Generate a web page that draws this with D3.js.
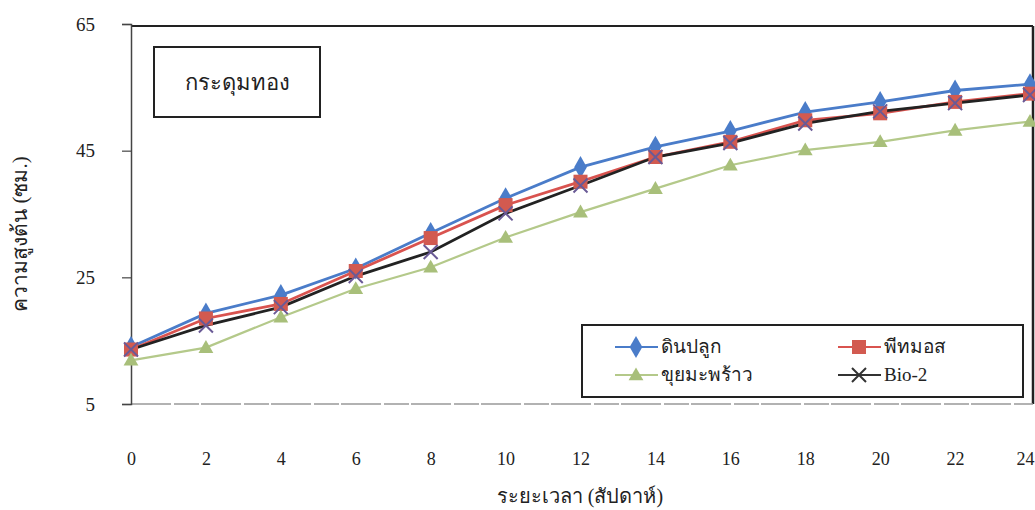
<!DOCTYPE html>
<html><head><meta charset="utf-8">
<script src="https://cdn.jsdelivr.net/npm/d3@7"></script>
<style>
body{margin:0;background:#fff;}
svg text{font-family:"Liberation Serif","Times New Roman",serif;}
</style></head>
<body><svg id="c" width="1035" height="510"></svg>
<script>
const weeks = [0,2,4,6,8,10,12,14,16,18,20,22,24];
const yTicks = [5,25,45,65];
const seriesNames = ["ดินปลูก","พีทมอส","ขุยมะพร้าว","Bio-2"];
const soil  = [14.0,19.3,22.2,26.4,32.0,37.5,42.4,45.6,48.1,51.1,52.7,54.5,55.5];
const peat  = [13.6,18.5,20.8,26.0,31.2,36.4,40.1,44.0,46.4,49.8,50.9,52.7,54.0];
const coir  = [11.9,13.9,18.7,23.2,26.6,31.3,35.3,39.0,42.7,45.1,46.4,48.2,49.6];
const bio2  = [13.6,17.4,20.3,25.2,29.0,35.1,39.5,44.0,46.2,49.3,51.2,52.5,53.8];
const chartTitle = "กระดุมทอง";
const xTitle = "ระยะเวลา (สัปดาห์)";
const yTitle = "ความสูงต้น (ซม.)";

const svg = d3.select("#c");
const x = d3.scaleLinear().domain([0,24]).range([131,1030]);
const y = d3.scaleLinear().domain([5,65]).range([404,24]);

// frame
svg.append("line").attr("x1",131).attr("x2",1033).attr("y1",26).attr("y2",26).attr("stroke","#222").attr("stroke-width",2);
svg.append("line").attr("x1",1033).attr("x2",1033).attr("y1",26).attr("y2",404).attr("stroke","#222").attr("stroke-width",2.5);
svg.append("line").attr("x1",131).attr("x2",1033).attr("y1",404).attr("y2",404).attr("stroke","#999").attr("stroke-width",1.5).attr("stroke-dasharray","40,3,25,2");

// y axis
const ya = svg.append("g").attr("transform","translate(131,0)")
  .call(d3.axisLeft(y).tickValues(yTicks).tickSize(9).tickPadding(27));
ya.select(".domain").attr("stroke","#444").attr("stroke-width",1.5);
ya.selectAll(".tick line").attr("stroke","#444").attr("stroke-width",1.2);
ya.selectAll("text").attr("font-size",19).attr("fill","#222").attr("font-family","Liberation Serif");

// x axis labels
const xa = svg.append("g").attr("transform","translate(0,404)")
  .call(d3.axisBottom(x).tickValues(weeks).tickSize(0).tickPadding(48));
xa.select(".domain").remove();
xa.selectAll("text").attr("font-size",18).attr("fill","#222").attr("font-family","Liberation Serif");
xa.selectAll(".tick").filter(d=>d===24).select("text").attr("text-anchor","end").attr("dx",4);

// titles
svg.append("text").attr("x",580).attr("y",503).attr("text-anchor","middle").attr("font-size",20).attr("fill","#222").text(xTitle);
svg.append("text").attr("transform","translate(27,234) rotate(-90)").attr("text-anchor","middle").attr("font-size",21).attr("fill","#222").text(yTitle);

// title box
svg.append("rect").attr("x",154).attr("y",47).attr("width",166).attr("height",70).attr("fill","#fff").attr("stroke","#222").attr("stroke-width",2);
svg.append("text").attr("x",237).attr("y",90).attr("text-anchor","middle").attr("font-size",22).attr("fill","#222").text(chartTitle);

const line = d3.line().x((d,i)=>x(weeks[i])).y(d=>y(d));
const series = [
  {name:seriesNames[0], data:soil, color:"#4a7cc9", marker:"diamond", mcolor:"#4a7cc9"},
  {name:seriesNames[1], data:peat, color:"#d9534f", marker:"square", mcolor:"#d25a50"},
  {name:seriesNames[2], data:coir, color:"#b4c98a", marker:"triangle", mcolor:"#a8bf7a"},
  {name:seriesNames[3], data:bio2, color:"#222", marker:"x", mcolor:"#6a5a96"}
];
function drawMarker(g, type, cx, cy, col){
  if(type==="diamond") g.append("path").attr("d",d3.symbol(d3.symbolDiamond,140)()).attr("transform",`translate(${cx},${cy})`).attr("fill",col);
  else if(type==="square") g.append("rect").attr("x",cx-7).attr("y",cy-7).attr("width",14).attr("height",14).attr("fill",col);
  else if(type==="triangle") g.append("path").attr("d",d3.symbol(d3.symbolTriangle,95)()).attr("transform",`translate(${cx},${cy+1})`).attr("fill",col);
  else { g.append("path").attr("d",`M${cx-7},${cy-7}L${cx+7},${cy+7}M${cx-7},${cy+7}L${cx+7},${cy-7}`).attr("stroke",col).attr("stroke-width",2).attr("fill","none"); }
}
const plot = svg.append("g");
series.forEach(s=>{
  plot.append("path").datum(s.data).attr("d",line).attr("fill","none").attr("stroke",s.color).attr("stroke-width",s.marker==="triangle"?2.2:2.8);
});
series.forEach(s=>{
  s.data.forEach((v,i)=>drawMarker(plot,s.marker,x(weeks[i]),y(v),s.mcolor));
});

// legend
svg.append("rect").attr("x",582).attr("y",325).attr("width",441).attr("height",72).attr("fill","#fff").attr("stroke","#222").attr("stroke-width",2);
const legPos = [[615,347],[838,347],[615,375],[838,375]];
series.forEach((s,i)=>{
  const [lx,ly] = legPos[i];
  const g = svg.append("g");
  g.append("line").attr("x1",lx).attr("x2",lx+43).attr("y1",ly).attr("y2",ly).attr("stroke",s.marker==="x"?"#333":s.color).attr("stroke-width",2);
  drawMarker(g,s.marker,lx+21,ly,s.marker==="x"?"#333":s.mcolor);
  g.append("text").attr("x",lx+46).attr("y",ly+6).attr("font-size",19).attr("fill","#222").text(s.name);
});
</script></body></html>
